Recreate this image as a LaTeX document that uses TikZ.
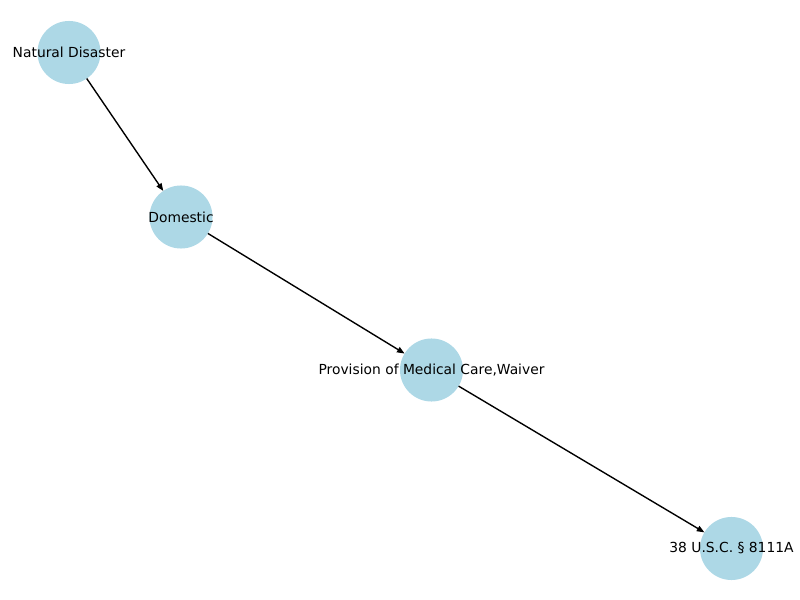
\documentclass[tikz,border=0pt]{standalone}
\usepackage{fontspec}
\setmainfont{DejaVu Sans}
\usetikzlibrary{arrows.meta}
\definecolor{nodeblue}{RGB}{173,216,230}
\begin{document}
\begin{tikzpicture}[x=0.01in,y=-0.01in,
  gnode/.style={circle,fill=nodeblue,draw=none,minimum size=0.63in,inner sep=0pt,outer sep=0pt},
  glabel/.style={font=\fontsize{10pt}{12pt}\selectfont,text=black,inner sep=0pt},
  gedge/.style={draw=black,line width=1pt,-{Triangle[length=5.5pt,width=4.2pt]}}]
\useasboundingbox (0,0) rectangle (800,600);
\node[gnode] (n1) at (69,52.5) {};
\node[gnode] (n2) at (181,217) {};
\node[gnode] (n3) at (431.5,370) {};
\node[gnode] (n4) at (731.5,548.5) {};
\draw[gedge] (n1) -- (n2);
\draw[gedge] (n2) -- (n3);
\draw[gedge] (n3) -- (n4);
\node[glabel] (t1) at (n1.center) {Natural Disaster};
\node[glabel] (t2) at (n2.center) {Domestic};
\node[glabel] (t3) at (n3.center) {Provision of Medical Care,Waiver};
\node[glabel] (t4) at (n4.center) {38 U.S.C. § 8111A};
\end{tikzpicture}
\end{document}
